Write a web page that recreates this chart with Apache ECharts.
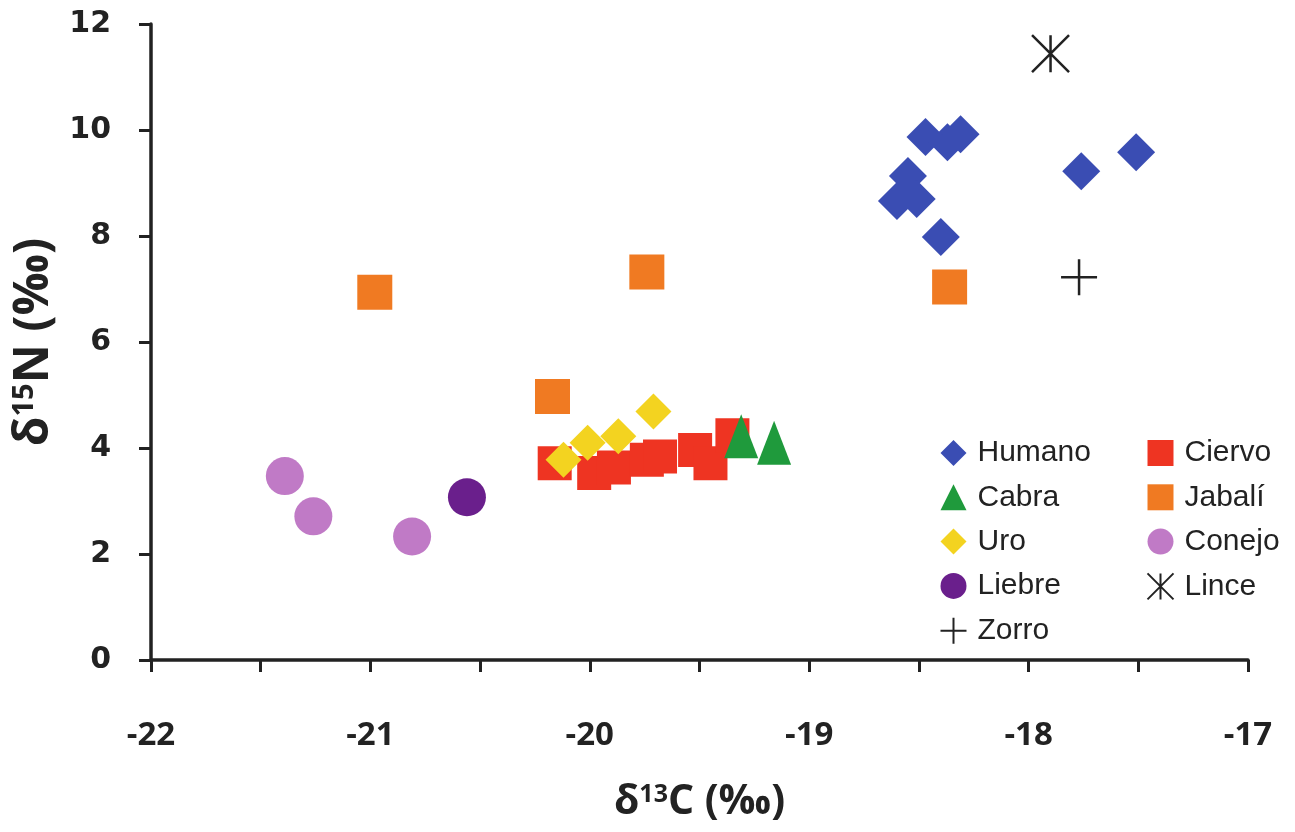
<!DOCTYPE html>
<html>
<head>
<meta charset="utf-8">
<script src="https://cdn.jsdelivr.net/npm/echarts@6/dist/echarts.min.js"></script>
<style>
html,body{margin:0;padding:0;background:#fff;}
#chart{width:1295px;height:832px;}
</style>
</head>
<body>
<div id="chart"></div>
<script>
// Data (δ13C, δ15N)
const humano = [[-18.47,9.87],[-18.37,9.77],[-18.31,9.92],[-18.55,9.13],[-18.60,8.66],[-18.51,8.70],[-18.40,7.98],[-17.76,9.22],[-17.51,9.58]];
const ciervo = [[-20.16,3.71],[-19.98,3.53],[-19.89,3.63],[-19.74,3.78],[-19.68,3.84],[-19.52,3.96],[-19.45,3.71],[-19.35,4.24]];
const cabra = [[-19.31,4.22],[-19.16,4.10]];
const jabali = [[-20.98,6.94],[-19.74,7.32],[-20.17,4.97],[-18.36,7.04]];
const uro = [[-20.12,3.78],[-20.01,4.10],[-19.87,4.22],[-19.71,4.69]];
const conejo = [[-21.39,3.47],[-21.26,2.71],[-20.81,2.33]];
const liebre = [[-20.56,3.07]];
const lince = [[-17.90,11.44]];
const zorro = [[-17.77,7.22]];

const xMin = -22, xMax = -17, xStep = 1;
const yMin = 0, yMax = 12, yStep = 2;

const legendCol1 = ['Humano','Cabra','Uro','Liebre','Zorro'];
const legendCol2 = ['Ciervo','Jabalí','Conejo','Lince'];

const ASTER = 'path://M0,0L10,10M10,0L0,10M5,0L5,10';
const PLUS = 'path://M5,0L5,10M0,5L10,5';

const chart = echarts.init(document.getElementById('chart'));
const axisColor = '#222';
const legendBase = {
  orient: 'vertical',
  itemWidth: 26,
  itemHeight: 26,
  itemGap: 14.3,
  textStyle: {fontFamily: 'Liberation Sans, Arial, sans-serif', fontSize: 30, color: '#222', lineHeight: 29, padding: [0,0,0,6]},
  selectedMode: false
};
chart.setOption({
  backgroundColor: '#fff',
  animation: false,
  grid: {left: 151, right: 47, top: 24, bottom: 172, containLabel: false},
  legend: [
    Object.assign({}, legendBase, {data: legendCol1, left: 933, top: 433}),
    Object.assign({}, legendBase, {data: legendCol2, left: 1140, top: 433})
  ],
  xAxis: {
    type: 'value', min: xMin, max: xMax, interval: xStep,
    axisLine: {show: true, lineStyle: {color: axisColor, width: 3.5}},
    axisTick: {show: true, length: 12, lineStyle: {color: axisColor, width: 3}},
    minorTick: {show: true, splitNumber: 2, length: 12, lineStyle: {color: axisColor, width: 3}},
    splitLine: {show: false},
    axisLabel: {margin: 59, fontFamily: 'Open Sans, sans-serif', fontWeight: 'bold', fontSize: 33, color: '#222'},
    name: '{b|δ}{s|13}{b|C (‰)}',
    nameLocation: 'middle', nameGap: 122,
    nameTextStyle: {
      rich: {
        b: {fontFamily: 'Open Sans, sans-serif', fontWeight: 'bold', fontSize: 41, color: '#222'},
        s: {fontFamily: 'Open Sans, sans-serif', fontWeight: 'bold', fontSize: 25, color: '#222', verticalAlign: 'top', padding: [0,0,14,0]}
      }
    }
  },
  yAxis: {
    type: 'value', min: yMin, max: yMax, interval: yStep,
    axisLine: {show: true, lineStyle: {color: axisColor, width: 3.5}},
    axisTick: {show: true, length: 12, lineStyle: {color: axisColor, width: 3}},
    splitLine: {show: false},
    axisLabel: {margin: 40, fontFamily: 'DejaVu Sans, sans-serif', fontWeight: 'bold', fontSize: 30, color: '#222'},
    name: '{b|δ}{s|15}{b|N (‰)}',
    nameLocation: 'middle', nameGap: 92, nameRotate: 90,
    nameTextStyle: {
      rich: {
        b: {fontFamily: 'Open Sans, sans-serif', fontWeight: 'bold', fontSize: 48, color: '#222'},
        s: {fontFamily: 'Open Sans, sans-serif', fontWeight: 'bold', fontSize: 29, color: '#222', verticalAlign: 'top', padding: [0,0,16,0]}
      }
    }
  },
  series: [
    {name: 'Humano', type: 'scatter', data: humano, symbol: 'diamond', symbolSize: 38, itemStyle: {color: '#3a4db3', opacity: 1}},
    {name: 'Ciervo', type: 'scatter', data: ciervo, symbol: 'rect', symbolSize: 34, itemStyle: {color: '#ee3422', opacity: 1}},
    {name: 'Cabra', type: 'scatter', data: cabra, symbol: 'triangle', symbolSize: [34,44], itemStyle: {color: '#1f9a3c', opacity: 1}},
    {name: 'Jabalí', type: 'scatter', data: jabali, symbol: 'rect', symbolSize: 35, itemStyle: {color: '#f07a22', opacity: 1}},
    {name: 'Uro', type: 'scatter', data: uro, symbol: 'diamond', symbolSize: 36, itemStyle: {color: '#f3d320', opacity: 1}},
    {name: 'Conejo', type: 'scatter', data: conejo, symbol: 'circle', symbolSize: 38, itemStyle: {color: '#c07ac6', opacity: 1}},
    {name: 'Liebre', type: 'scatter', data: liebre, symbol: 'circle', symbolSize: 38, itemStyle: {color: '#6a1f8c', opacity: 1}},
    {name: 'Lince', type: 'scatter', data: lince, symbol: ASTER, symbolSize: 37, itemStyle: {color: 'none', borderColor: '#222', borderWidth: 2.5, opacity: 1}},
    {name: 'Zorro', type: 'scatter', data: zorro, symbol: PLUS, symbolSize: 36, itemStyle: {color: 'none', borderColor: '#222', borderWidth: 2.5, opacity: 1}}
  ]
});
</script>
</body>
</html>
